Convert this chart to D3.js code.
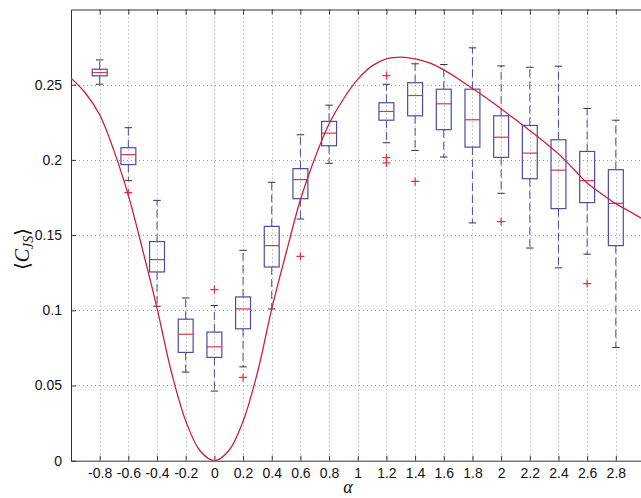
<!DOCTYPE html>
<html>
<head>
<meta charset="utf-8">
<script src="https://cdn.jsdelivr.net/npm/d3@7"></script>
<style>
  html, body { margin: 0; padding: 0; background: #fff; }
  svg { display: block; }
</style>
</head>
<body>
<svg id="chart" width="641" height="498"></svg>
<script>
// ---------- data ----------
const alphas        = [-0.8, -0.6, -0.4, -0.2, 0, 0.2, 0.4, 0.6, 0.8, 1.2, 1.4, 1.6, 1.8, 2.0, 2.2, 2.4, 2.6, 2.8];
const whiskerHigh   = [0.2665, 0.2214, 0.1731, 0.1082, 0.1032, 0.1399, 0.1851, 0.2167, 0.2364, 0.2503, 0.2639, 0.2634, 0.2745, 0.2625, 0.2616, 0.2623, 0.2342, 0.2264];
const upperQuartile = [0.2603, 0.2081, 0.1457, 0.0941, 0.0855, 0.1089, 0.1558, 0.1942, 0.2256, 0.2380, 0.2513, 0.2470, 0.2470, 0.2293, 0.2229, 0.2134, 0.2056, 0.1935];
const medians       = [0.2581, 0.2035, 0.1337, 0.0841, 0.0757, 0.1009, 0.1430, 0.1869, 0.2178, 0.2322, 0.2428, 0.2373, 0.2267, 0.2151, 0.2045, 0.1932, 0.1862, 0.1711];
const lowerQuartile = [0.2559, 0.1969, 0.1255, 0.0720, 0.0687, 0.0877, 0.1288, 0.1742, 0.2094, 0.2264, 0.2293, 0.2201, 0.2085, 0.2017, 0.1875, 0.1676, 0.1716, 0.1430];
const whiskerLow    = [0.2503, 0.1862, 0.1027, 0.0589, 0.0463, 0.0624, 0.1009, 0.1607, 0.1977, 0.2114, 0.2063, 0.2019, 0.1581, 0.1778, 0.1414, 0.1282, 0.1373, 0.0753];

const outlierAlpha  = [-0.6, 0, 0.2, 0.6, 1.2, 1.2, 1.2, 1.4, 2.0, 2.6];
const outlierValue  = [0.1782, 0.1138, 0.0554, 0.1359, 0.2561, 0.2015, 0.1980, 0.1857, 0.1590, 0.1178];

const curveAlpha = [-1.0, -0.9, -0.8, -0.7, -0.6, -0.5, -0.4, -0.3, -0.2, -0.1, 0, 0.1, 0.2, 0.3, 0.4, 0.5, 0.6, 0.7, 0.8, 0.9, 1.0, 1.1, 1.2, 1.3, 1.4, 1.5, 1.6, 1.7, 1.8, 1.9, 2.0, 2.1, 2.2, 2.3, 2.4, 2.5, 2.6, 2.7, 2.8, 2.9, 3.0];
const curveValue = [0.2543, 0.2445, 0.2300, 0.2060, 0.1764, 0.1400, 0.1015, 0.0590, 0.0265, 0.0066, 0, 0.0066, 0.0262, 0.0585, 0.1009, 0.1380, 0.1735, 0.2010, 0.2240, 0.2405, 0.2535, 0.2625, 0.2672, 0.2683, 0.2672, 0.2645, 0.2599, 0.2540, 0.2475, 0.2410, 0.2340, 0.2268, 0.2196, 0.2120, 0.2040, 0.1945, 0.1846, 0.1775, 0.1709, 0.1655, 0.1600];

const xTickValues = [-0.8, -0.6, -0.4, -0.2, 0, 0.2, 0.4, 0.6, 0.8, 1, 1.2, 1.4, 1.6, 1.8, 2, 2.2, 2.4, 2.6, 2.8];
const xTickLabels = ["-0.8", "-0.6", "-0.4", "-0.2", "0", "0.2", "0.4", "0.6", "0.8", "1", "1.2", "1.4", "1.6", "1.8", "2", "2.2", "2.4", "2.6", "2.8"];
const yTickValues = [0, 0.05, 0.1, 0.15, 0.2, 0.25];
const yTickLabels = ["0", "0.05", "0.1", "0.15", "0.2", "0.25"];

// ---------- layout ----------
const svg = d3.select("#chart");
const W = 641, H = 498;
const pLeft = 71, pRight = 644.5, pTop = 9.5, pBottom = 460.7;

const x = d3.scaleLinear().domain([-1, 3]).range([pLeft, pRight]);
const y = d3.scaleLinear().domain([0, 0.3]).range([pBottom, pTop]);

const boxColor = "#4b4ba3";
const medColor = "#e0304a";
const curveColor = "#c8203f";
const axisColor = "#333";
const font = "'Liberation Sans', Arial, Helvetica, sans-serif";

svg.append("rect").attr("width", W).attr("height", H).attr("fill", "#fff");

svg.append("defs").append("clipPath").attr("id", "clip")
  .append("rect").attr("x", pLeft).attr("y", pTop).attr("width", pRight - pLeft).attr("height", pBottom - pTop);

// grid
const grid = svg.append("g");
grid.selectAll("line.vg").data(xTickValues).join("line")
  .attr("x1", d => Math.round(x(d)) + 0.5).attr("x2", d => Math.round(x(d)) + 0.5)
  .attr("y1", pTop).attr("y2", pBottom)
  .attr("stroke", "#999").attr("stroke-width", 1).attr("stroke-dasharray", "1,3");
grid.selectAll("line.hg").data(yTickValues.filter(d => d > 0)).join("line")
  .attr("x1", pLeft).attr("x2", pRight)
  .attr("y1", d => Math.round(y(d)) + 0.5).attr("y2", d => Math.round(y(d)) + 0.5)
  .attr("stroke", "#999").attr("stroke-width", 1).attr("stroke-dasharray", "1,3");

// axes (MATLAB style: inward ticks)
const xAxisB = d3.axisBottom(x).tickValues(xTickValues).tickFormat((d, i) => xTickLabels[i]).tickSizeInner(-5).tickSizeOuter(0).tickPadding(7.5);
const gxb = svg.append("g").attr("transform", `translate(0,${pBottom})`).call(xAxisB);
const xAxisT = d3.axisTop(x).tickValues(xTickValues).tickFormat("").tickSizeInner(-5).tickSizeOuter(0);
const gxt = svg.append("g").attr("transform", `translate(0,${pTop})`).call(xAxisT);
const yAxisL = d3.axisLeft(y).tickValues(yTickValues).tickFormat((d, i) => yTickLabels[i]).tickSizeInner(-5).tickSizeOuter(0).tickPadding(9);
const gyl = svg.append("g").attr("transform", `translate(${pLeft},0)`).call(yAxisL);

[gxb, gxt, gyl].forEach(g => {
  g.select(".domain").attr("stroke", axisColor);
  g.selectAll(".tick line").attr("stroke", axisColor);
  g.selectAll(".tick text").attr("fill", "#111").style("font-family", font).style("font-size", "14px");
});

// boxes
const boxes = alphas.map((a, i) => ({
  a, hi: whiskerHigh[i], q3: upperQuartile[i], med: medians[i], q1: lowerQuartile[i], lo: whiskerLow[i]
}));
const halfBox = (x(0.2) - x(0)) * 0.26;
const halfCap = halfBox * 0.5;

const gb = svg.append("g");
const bg = gb.selectAll("g.box").data(boxes).join("g").attr("class", "box");

// whiskers (dashed)
bg.append("line")
  .attr("x1", d => x(d.a)).attr("x2", d => x(d.a))
  .attr("y1", d => y(d.q3)).attr("y2", d => y(d.hi))
  .attr("stroke", boxColor).attr("stroke-width", 1).attr("stroke-dasharray", "8,4");
bg.append("line")
  .attr("x1", d => x(d.a)).attr("x2", d => x(d.a))
  .attr("y1", d => y(d.q1)).attr("y2", d => y(d.lo))
  .attr("stroke", boxColor).attr("stroke-width", 1).attr("stroke-dasharray", "8,4");
// caps
bg.append("line")
  .attr("x1", d => x(d.a) - halfCap).attr("x2", d => x(d.a) + halfCap)
  .attr("y1", d => y(d.hi)).attr("y2", d => y(d.hi))
  .attr("stroke", "#333").attr("stroke-width", 1);
bg.append("line")
  .attr("x1", d => x(d.a) - halfCap).attr("x2", d => x(d.a) + halfCap)
  .attr("y1", d => y(d.lo)).attr("y2", d => y(d.lo))
  .attr("stroke", "#333").attr("stroke-width", 1);
// box
bg.append("rect")
  .attr("x", d => x(d.a) - halfBox).attr("width", halfBox * 2)
  .attr("y", d => y(d.q3)).attr("height", d => y(d.q1) - y(d.q3))
  .attr("fill", "none").attr("stroke", boxColor).attr("stroke-width", 1.2);
// median
bg.append("line")
  .attr("x1", d => x(d.a) - halfBox).attr("x2", d => x(d.a) + halfBox)
  .attr("y1", d => y(d.med)).attr("y2", d => y(d.med))
  .attr("stroke", medColor).attr("stroke-width", 1.2);

// outliers
const outliers = outlierAlpha.map((a, i) => ({ a, v: outlierValue[i] }));
const plus = 4;
svg.append("g").selectAll("path").data(outliers).join("path")
  .attr("d", d => `M${x(d.a) - plus},${y(d.v)}H${x(d.a) + plus}M${x(d.a)},${y(d.v) - plus}V${y(d.v) + plus}`)
  .attr("stroke", medColor).attr("stroke-width", 1.2).attr("fill", "none");

// theory curve
const curvePts = curveAlpha.map((a, i) => [a, curveValue[i]]);
svg.append("path")
  .datum(curvePts)
  .attr("clip-path", "url(#clip)")
  .attr("d", d3.line().x(d => x(d[0])).y(d => y(d[1])).curve(d3.curveCatmullRom.alpha(0.5)))
  .attr("fill", "none").attr("stroke", curveColor).attr("stroke-width", 1.3);

// labels
svg.append("text")
  .attr("x", 348).attr("y", 493)
  .attr("text-anchor", "middle")
  .style("font-family", "'Liberation Serif', 'DejaVu Serif', serif")
  .style("font-style", "italic").style("font-size", "18px")
  .attr("fill", "#111")
  .text("α");

const yl = svg.append("text")
  .attr("transform", "translate(29,249) rotate(-90)")
  .attr("text-anchor", "middle")
  .style("font-family", "'Liberation Serif', 'DejaVu Serif', serif")
  .style("font-size", "20px")
  .attr("fill", "#111");
yl.append("tspan").text("⟨");
yl.append("tspan").style("font-style", "italic").text("C");
yl.append("tspan").style("font-style", "italic").style("font-size", "14px").attr("dy", 4).text("JS");
yl.append("tspan").attr("dy", -4).text("⟩");
</script>
</body>
</html>
